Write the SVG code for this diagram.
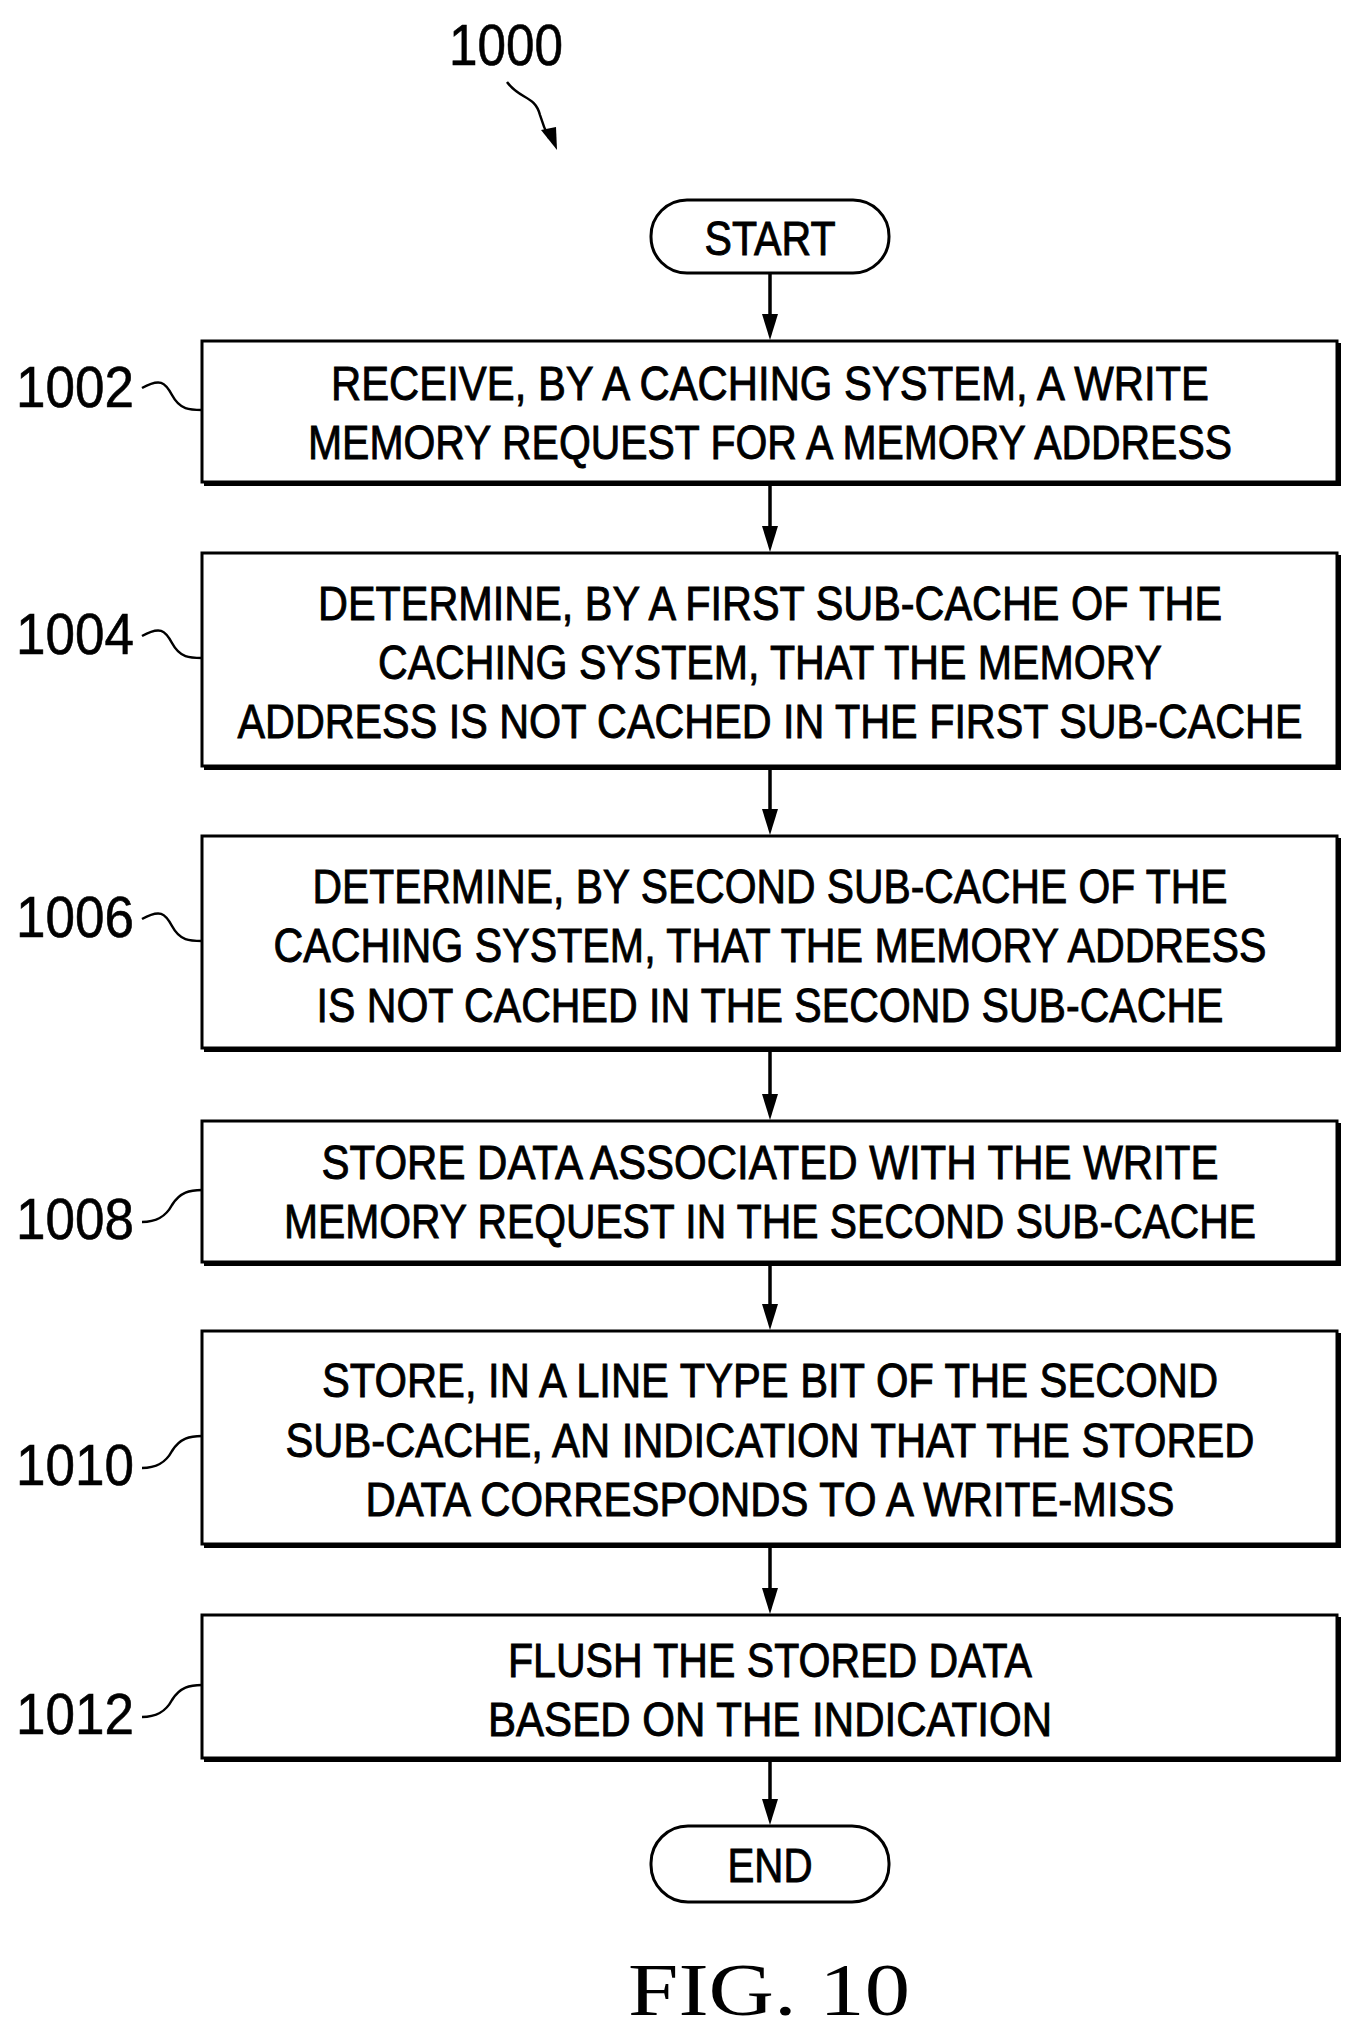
<svg xmlns="http://www.w3.org/2000/svg" width="1359" height="2040" viewBox="0 0 1359 2040">
<defs>
<style>
.b{fill:#fff;stroke:#000;stroke-width:3}
.s{fill:none;stroke:#000;stroke-width:4}
.t{font-family:"Liberation Sans",Arial,sans-serif;font-size:48px;text-anchor:middle;fill:#000;stroke:#000;stroke-width:0.9}
.l{font-family:"Liberation Sans",Arial,sans-serif;font-size:58px;fill:#000;stroke:#000;stroke-width:0.6}
.c{fill:none;stroke:#000;stroke-width:2.5}
.e{stroke:#000;stroke-width:3.5}
</style>
<path id="ah" d="M-8,-26L8,-26L0,0z" fill="#000"/>
</defs>
<text class="l" x="449" y="65" textLength="114" lengthAdjust="spacingAndGlyphs">1000</text>
<path class="c" d="M507,82 C520,100 535,95 540,115 C543,125 546,132 549,138"/>
<path d="M541,130L556,127L557,150z" fill="#000"/>
<g id="connectors">
<g class="e">
<line x1="770" y1="273" x2="770" y2="320"/>
<line x1="770" y1="482" x2="770" y2="530"/>
<line x1="770" y1="766" x2="770" y2="813"/>
<line x1="770" y1="1048" x2="770" y2="1098"/>
<line x1="770" y1="1262" x2="770" y2="1308"/>
<line x1="770" y1="1544" x2="770" y2="1592"/>
<line x1="770" y1="1758" x2="770" y2="1803"/>
</g>
<use href="#ah" x="770" y="340"/>
<use href="#ah" x="770" y="552"/>
<use href="#ah" x="770" y="835"/>
<use href="#ah" x="770" y="1120"/>
<use href="#ah" x="770" y="1330"/>
<use href="#ah" x="770" y="1614"/>
<use href="#ah" x="770" y="1825"/>
</g>
<g id="start"><rect class="b" x="651" y="200" width="238" height="73" rx="36"/><text class="t" x="770" y="255" textLength="131" lengthAdjust="spacingAndGlyphs">START</text></g>
<g id="n1002"><rect class="b" x="202" y="341" width="1135" height="141"/><path class="s" d="M204,484H1339V343"/>
<text class="t" x="770" y="400" textLength="878" lengthAdjust="spacingAndGlyphs">RECEIVE, BY A CACHING SYSTEM, A WRITE</text>
<text class="t" x="770" y="459" textLength="924" lengthAdjust="spacingAndGlyphs">MEMORY REQUEST FOR A MEMORY ADDRESS</text>
<text class="l" x="16" y="407" textLength="118" lengthAdjust="spacingAndGlyphs">1002</text><path class="c" d="M142,388C160,378 165,382 172,395C180,410 190,410 202,410"/></g>
<g id="n1004"><rect class="b" x="202" y="553" width="1135" height="213"/><path class="s" d="M204,768H1339V555"/>
<text class="t" x="770" y="620" textLength="904" lengthAdjust="spacingAndGlyphs">DETERMINE, BY A FIRST SUB-CACHE OF THE</text>
<text class="t" x="770" y="679" textLength="784" lengthAdjust="spacingAndGlyphs">CACHING SYSTEM, THAT THE MEMORY</text>
<text class="t" x="770" y="738" textLength="1065" lengthAdjust="spacingAndGlyphs">ADDRESS IS NOT CACHED IN THE FIRST SUB-CACHE</text>
<text class="l" x="16" y="654" textLength="118" lengthAdjust="spacingAndGlyphs">1004</text><path class="c" d="M142,636C160,626 165,630 172,643C180,658 190,658 202,658"/></g>
<g id="n1006"><rect class="b" x="202" y="836" width="1135" height="212"/><path class="s" d="M204,1050H1339V838"/>
<text class="t" x="770" y="903" textLength="915" lengthAdjust="spacingAndGlyphs">DETERMINE, BY SECOND SUB-CACHE OF THE</text>
<text class="t" x="770" y="962" textLength="993" lengthAdjust="spacingAndGlyphs">CACHING SYSTEM, THAT THE MEMORY ADDRESS</text>
<text class="t" x="770" y="1022" textLength="907" lengthAdjust="spacingAndGlyphs">IS NOT CACHED IN THE SECOND SUB-CACHE</text>
<text class="l" x="16" y="937" textLength="118" lengthAdjust="spacingAndGlyphs">1006</text><path class="c" d="M142,919C160,909 165,913 172,926C180,941 190,941 202,941"/></g>
<g id="n1008"><rect class="b" x="202" y="1121" width="1135" height="141"/><path class="s" d="M204,1264H1339V1123"/>
<text class="t" x="770" y="1179" textLength="897" lengthAdjust="spacingAndGlyphs">STORE DATA ASSOCIATED WITH THE WRITE</text>
<text class="t" x="770" y="1238" textLength="972" lengthAdjust="spacingAndGlyphs">MEMORY REQUEST IN THE SECOND SUB-CACHE</text>
<text class="l" x="16" y="1239" textLength="118" lengthAdjust="spacingAndGlyphs">1008</text><path class="c" d="M142,1222C155,1222 165,1218 172,1205C180,1192 190,1190 202,1190"/></g>
<g id="n1010"><rect class="b" x="202" y="1331" width="1135" height="213"/><path class="s" d="M204,1546H1339V1333"/>
<text class="t" x="770" y="1397" textLength="896" lengthAdjust="spacingAndGlyphs">STORE, IN A LINE TYPE BIT OF THE SECOND</text>
<text class="t" x="770" y="1457" textLength="969" lengthAdjust="spacingAndGlyphs">SUB-CACHE, AN INDICATION THAT THE STORED</text>
<text class="t" x="770" y="1516" textLength="809" lengthAdjust="spacingAndGlyphs">DATA CORRESPONDS TO A WRITE-MISS</text>
<text class="l" x="16" y="1485" textLength="118" lengthAdjust="spacingAndGlyphs">1010</text><path class="c" d="M142,1468C155,1468 165,1464 172,1451C180,1438 190,1436 202,1436"/></g>
<g id="n1012"><rect class="b" x="202" y="1615" width="1135" height="143"/><path class="s" d="M204,1760H1339V1617"/>
<text class="t" x="770" y="1677" textLength="524" lengthAdjust="spacingAndGlyphs">FLUSH THE STORED DATA</text>
<text class="t" x="770" y="1736" textLength="564" lengthAdjust="spacingAndGlyphs">BASED ON THE INDICATION</text>
<text class="l" x="16" y="1734" textLength="118" lengthAdjust="spacingAndGlyphs">1012</text><path class="c" d="M142,1717C155,1717 165,1713 172,1700C180,1687 190,1685 202,1685"/></g>
<g id="end"><rect class="b" x="651" y="1826" width="238" height="76" rx="37"/><text class="t" x="770" y="1882" textLength="85" lengthAdjust="spacingAndGlyphs">END</text></g>
<text x="628" y="2015" font-family="Liberation Serif,serif" font-size="74" textLength="282" lengthAdjust="spacingAndGlyphs">FIG. 10</text>
</svg>
